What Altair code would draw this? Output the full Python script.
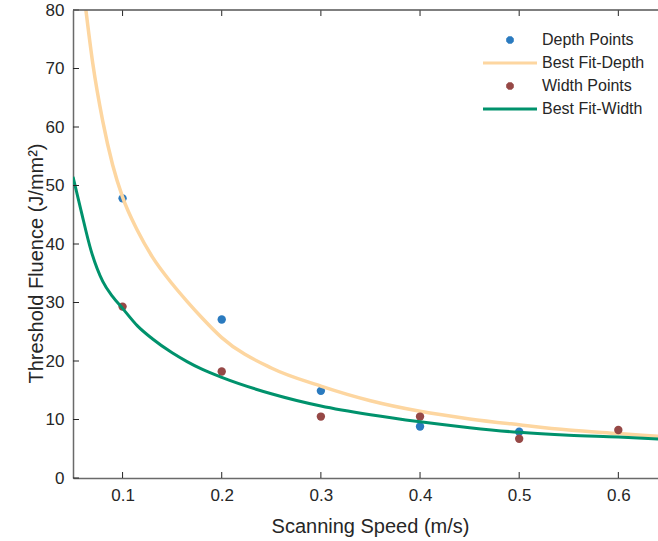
import altair as alt
import pandas as pd

# ---- data ----
series_names = ["Depth Points", "Best Fit-Depth", "Width Points", "Best Fit-Width"]
series_colors = ["#2a7abf", "#fdd6a0", "#964846", "#00926c"]

depth_x = [0.1, 0.2, 0.3, 0.4, 0.5]
depth_y = [47.8, 27.1, 14.9, 8.8, 7.9]

width_x = [0.1, 0.2, 0.3, 0.4, 0.5, 0.6]
width_y = [29.3, 18.2, 10.5, 10.5, 6.7, 8.2]

fit_depth_x = [0.063, 0.07, 0.08, 0.09, 0.1, 0.115, 0.13, 0.15, 0.165, 0.18, 0.2,
               0.25, 0.3, 0.35, 0.4, 0.45, 0.5, 0.55, 0.6, 0.65]
fit_depth_y = [80.0, 70.8, 61.0, 53.5, 48.0, 42.3, 37.8, 33.2, 30.2, 27.4, 24.0,
               18.8, 15.7, 13.2, 11.4, 10.1, 9.1, 8.2, 7.6, 7.0]

fit_width_x = [0.05, 0.058, 0.068, 0.08, 0.09, 0.1, 0.115, 0.13, 0.15, 0.165, 0.18, 0.2,
               0.25, 0.3, 0.35, 0.4, 0.45, 0.5, 0.55, 0.6, 0.65]
fit_width_y = [51.5, 45.8, 39.0, 33.6, 31.0, 29.0, 26.0, 23.8, 21.4, 19.9, 18.6, 17.2,
               14.4, 12.3, 10.8, 9.6, 8.6, 7.8, 7.3, 7.0, 6.6]

x_ticks = [0.1, 0.2, 0.3, 0.4, 0.5, 0.6]
y_ticks = [0, 10, 20, 30, 40, 50, 60, 70, 80]

# ---- layout ----
W, H = 585, 468
FONT = "Liberation Sans"
TXT = "#262626"

depth_df = pd.DataFrame({"x": depth_x, "y": depth_y, "series": series_names[0]})
width_df = pd.DataFrame({"x": width_x, "y": width_y, "series": series_names[2]})
fitd_df = pd.DataFrame({"x": fit_depth_x, "y": fit_depth_y, "series": series_names[1]})
fitw_df = pd.DataFrame({"x": fit_width_x, "y": fit_width_y, "series": series_names[3]})
xt_df = pd.DataFrame({"x": x_ticks})
yt_df = pd.DataFrame({"y": y_ticks})

xscale = alt.Scale(domain=[0.05, 0.64], nice=False, zero=False)
yscale = alt.Scale(domain=[0, 80], nice=False)
cscale = alt.Scale(domain=series_names, range=series_colors)

# legend glyphs: a stroked octagon with a centre stroke reads as a filled dot
dot = ("M1.155,0.478L0.478,1.155L-0.478,1.155L-1.155,0.478L-1.155,-0.478"
       "L-0.478,-1.155L0.478,-1.155L1.155,-0.478Z M-0.5,0L0.5,0")
seg = "M-13.5,0L13.5,0"
shape_scale = alt.Scale(domain=series_names, range=[dot, seg, dot, seg])

x_axis = alt.Axis(values=x_ticks, format=".1f", ticks=False, grid=False,
                  labelPadding=9, title="Scanning Speed (m/s)",
                  titleBaseline="alphabetic", titleY=54, titleX=297)
y_axis = alt.Axis(values=y_ticks, format="d", ticks=False, grid=False,
                  labelPadding=9, title="Threshold Fluence (J/mm²)",
                  titleBaseline="alphabetic", titleX=-31, titleY=253)
X = alt.X("x:Q", scale=xscale, axis=x_axis)
Y = alt.Y("y:Q", scale=yscale, axis=y_axis)


def col(legend=None):
    return alt.Color("series:N", scale=cscale, legend=legend)


pts_depth = alt.Chart(depth_df).mark_circle(size=70, opacity=1).encode(x=X, y=Y, color=col())
line_depth = alt.Chart(fitd_df).mark_line(strokeWidth=3.5, clip=True, interpolate="monotone").encode(
    x=X, y=Y, color=col())
pts_width = alt.Chart(width_df).mark_circle(size=70, opacity=1).encode(x=X, y=Y, color=col())
line_width = alt.Chart(fitw_df).mark_line(strokeWidth=3, clip=True, interpolate="monotone").encode(
    x=X, y=Y, color=col())

leg = alt.Legend(title=None, orient="none", legendX=429, legendY=22,
                 labelFont=FONT, labelFontSize=16, labelColor=TXT,
                 labelOffset=24, rowPadding=6, symbolStrokeWidth=3,
                 symbolSize=16, padding=0)
legend_layer = alt.Chart(depth_df).transform_filter("datum.y < 0").mark_point(
    filled=False, size=16, strokeWidth=3, opacity=1).encode(
    x=X, y=Y, color=col(leg),
    shape=alt.Shape("series:N", scale=shape_scale, legend=leg))

tick_col = "#262626"
bot_ticks = alt.Chart(xt_df).mark_rule(color=tick_col, strokeWidth=1).encode(
    x=X, y=alt.value(H), y2=alt.value(H - 6))
top_ticks = alt.Chart(xt_df).mark_rule(color=tick_col, strokeWidth=1).encode(
    x=X, y=alt.value(0), y2=alt.value(6))
left_ticks = alt.Chart(yt_df).mark_rule(color=tick_col, strokeWidth=1).encode(
    y=Y, x=alt.value(0), x2=alt.value(6))
top_border = alt.Chart(xt_df.head(1)).mark_rule(color="#555555", strokeWidth=1.5).encode(
    x=alt.value(0), x2=alt.value(W), y=alt.value(0))

chart = alt.layer(
    pts_depth, line_depth, pts_width, line_width,
    bot_ticks, top_ticks, left_ticks, top_border, legend_layer
).resolve_legend(
    color="independent", shape="independent"
).properties(
    width=W, height=H,
    padding={"left": 73, "top": 10, "right": 0, "bottom": 63},
    autosize=alt.AutoSizeParams(type="none"),
).configure_view(stroke=None).configure_axis(
    labelFont=FONT, labelFontSize=17, labelColor=TXT,
    titleFont=FONT, titleFontSize=20, titleColor=TXT, titleFontWeight="normal",
    domainColor="#6a6a6a", domainWidth=1.5,
)

chart.save("out.html", embed_options={"renderer": "svg", "actions": False})
